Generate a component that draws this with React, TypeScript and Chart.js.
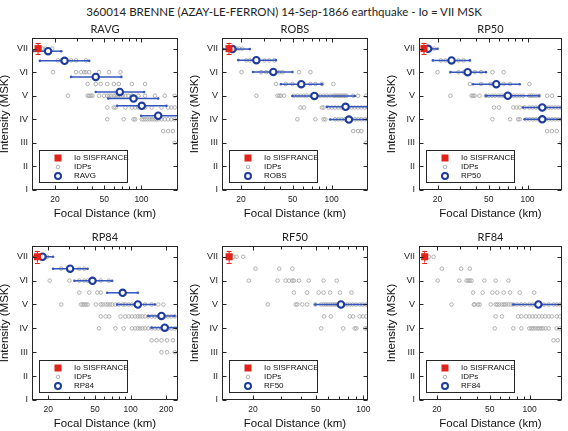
import React, { useEffect, useRef } from "react";
import { Chart, registerables } from "chart.js";

Chart.register(...registerables);

const MAIN_TITLE = "360014 BRENNE (AZAY-LE-FERRON) 14-Sep-1866 earthquake - Io = VII MSK";
const Y_TITLE = "Intensity (MSK)";
const X_TITLE = "Focal Distance (km)";
const LEGEND_IO = "Io SISFRANCE";
const LEGEND_IDP = "IDPs";

const ROMAN = ["I", "II", "III", "IV", "V", "VI", "VII"];
const INTENSITY_TICKS = [1, 2, 3, 4, 5, 6, 7];
const INTENSITY_RANGE = [1, 7.45];
const DIST_LABEL_TICKS = [20, 50, 100, 200];
const DIST_MINOR_TICKS = [20, 30, 40, 50, 60, 70, 80, 90, 100, 200];
const IDP_LEVELS = [7, 6.5, 6, 5.5, 5, 4.5, 4, 3.5, 3];
const IO_INTENSITY = 7;
const IO_UNCERTAINTY = 0.25;

// ---------- RAVG ----------
const RAVG_RANGE = [13.04, 197];
const RAVG_IO = 14.6;
const RAVG_IDP = [
  [15.9, 16.8, 19.0],
  [21.1, 22.5, 27.0, 29.6, 35.6],
  [19.3, 29.6, 32.4, 34.5, 35.6, 37.8, 45.4, 54.6, 67.6],
  [36.7, 42.7, 46.8, 52.9, 59.8, 65.6, 83.7, 106.9],
  [25.4, 36.7, 37.8, 39.0, 40.2, 45.4, 49.8, 52.9, 55.0, 57.0, 59.8, 62.0, 64.5, 67.6, 70.5, 74.0, 78.0, 83.7, 94.6, 106.9, 128.5, 154.3, 185.4],
  [52.9, 59.8, 61.7, 74.1, 83.7, 89.0, 94.6, 106.9, 120.8, 145.2, 164.1, 174.4, 185.4],
  [52.9, 71.9, 86.3, 89.0, 100.6, 104, 108, 112, 117, 122, 127, 132, 136.6, 145.2, 154.3, 164.1, 174.4, 185.4],
  [149.7, 164.1, 179.8],
  [185.4],
];
const RAVG_MEAN_DIST = [17.6, 23.9, 42.7, 66.8, 86.3, 100.6, 136.6];
const RAVG_MEAN_INT = [6.89, 6.48, 5.8, 5.16, 4.88, 4.57, 4.15];
const RAVG_BAR_LO = [13.4, 15.1, 27.0, 42.7, 53.9, 63.6, 99.4];
const RAVG_BAR_HI = [22.5, 37.8, 68.8, 105, 136.6, 159.1, 200];

// ---------- ROBS ----------
const ROBS_RANGE = [14.3, 190];
const ROBS_IO = 16.2;
const ROBS_IDP = [
  [18.5, 19.4, 20.5],
  [22.0, 23.4, 30.4, 33.1, 36.2],
  [20.2, 28.6, 31.3, 39.5, 41.8, 56.0, 68.6],
  [37.2, 44.3, 49.8, 68.6, 74.9, 84.1, 103.1],
  [26.3, 38.3, 39.5, 40.6, 43.1, 51.3, 54.4, 57.6, 61.1, 64, 68.6, 72.7, 77, 81.7, 86.6, 91.8, 97.3, 103.1, 106.2, 109.3, 112.5, 115.9, 119.3, 122.8, 126.5, 130.2, 146.3, 159.7, 184.7],
  [57.6, 61.1, 84.1, 86.6, 94.5, 100.2, 106.2, 112.5, 119.3, 126.5, 134.1, 142.1, 150.6, 159.7, 169.2, 179.4, 189],
  [54.4, 74.9, 86.6, 89.2, 106.2, 112.5, 119.3, 126.5, 134.1, 142.1, 150.6, 159.7, 169.2, 179.4, 189],
  [146.3, 159.7, 169.2],
  [184.7],
];
const ROBS_MEAN_DIST = [17.2, 26.3, 35.5, 58.3, 73.6, 127.9, 135.7];
const ROBS_MEAN_INT = [6.98, 6.51, 6.01, 5.49, 4.99, 4.53, 3.99];
const ROBS_BAR_LO = [14.7, 19.1, 24.8, 40.6, 49.8, 91.8, 97.3];
const ROBS_BAR_HI = [23.4, 37.2, 49.8, 84.1, 150.6, 195, 195];

// ---------- RP50 ----------
const RP50_RANGE = [14.36, 185];
const RP50_IO = 15.7;
const RP50_IDP = [
  [17.9, 18.9],
  [21.2, 23.1, 29.1, 31.8],
  [20.0, 29.1, 31.8, 38.9, 43.6, 53.4, 65.3],
  [35.7, 43.6, 51.8, 65.3, 73.2, 103.4],
  [25.2, 36.7, 37.8, 38.9, 42.4, 47.5, 50, 53, 56, 59.9, 63, 66, 70, 74, 78, 82.2, 87, 92.2, 103.4, 107, 111, 116, 122.9, 142, 154.7],
  [54.9, 59.9, 77.6, 82.2, 87.0, 94.9, 103.4, 109.6, 116, 122.9, 130.2, 137.9, 146.1, 154.7, 163.9, 173.7, 183],
  [53.4, 73.2, 84.6, 87.0, 97.7, 103.4, 109.6, 116, 122.9, 130.2, 137.9, 146.1, 154.7, 163.9, 173.7, 183],
  [142, 154.7, 168.7],
  [183],
];
const RP50_MEAN_DIST = [16.9, 25.7, 34.3, 57.2, 70.3, 130.2, 130.2];
const RP50_MEAN_INT = [6.99, 6.5, 6.0, 5.49, 5.0, 4.5, 4.0];
const RP50_BAR_LO = [15.7, 18.4, 25.2, 37.8, 47.5, 92.2, 94.9];
const RP50_BAR_HI = [20.0, 35.7, 47.5, 87.0, 122.9, 190, 190];

// ---------- RP84 ----------
const RP84_RANGE = [14.58, 252];
const RP84_IO = 16.2;
const RP84_IDP = [
  [18.7, 19.6],
  [25.8, 36.7, 40.5],
  [20.6, 30.3, 36.7, 40.5, 43.2, 55.8, 65.5],
  [36.7, 44.6, 52.3, 55.8],
  [25.8, 37.9, 39.2, 40.5, 41.8, 43.2, 50.7, 55.8, 58, 61.4, 64, 67, 70, 74.4, 79.4, 85.7, 90.2, 96.2, 102.6, 109.4, 132.6, 150.8, 171.5, 190],
  [55.8, 61.4, 65.7, 82.1, 90.2, 96.2, 102.6, 109.4, 115.2, 120.5, 126, 132.6, 141.4, 150.8, 160.8, 171.5, 182.8, 194.9, 207.8, 221.6, 236.3],
  [54.0, 74.4, 87.3, 102.6, 109.4, 115.2, 120.5, 126, 132.6, 141.4, 150.8, 160.8, 171.5, 182.8, 194.9, 207.8, 221.6, 236.3, 250],
  [150.8, 166, 182.8, 203.8, 228.8],
  [182.8, 203.8, 237],
];
const RP84_MEAN_DIST = [17.9, 30.7, 47.5, 85.7, 115.2, 182.8, 194.9];
const RP84_MEAN_INT = [7.0, 6.5, 5.99, 5.49, 5.0, 4.52, 4.03];
const RP84_BAR_LO = [15.0, 22.0, 33.4, 63.4, 76.9, 141.4, 150.8];
const RP84_BAR_HI = [22.0, 43.2, 69.8, 115.2, 160.8, 236.3, 260];

// ---------- RF50 ----------
const RF50_RANGE = [12.7, 107];
const RF50_IO = 14.1;
const RF50_IDP = [
  [15.0, 15.7, 17.3],
  [20.7, 29.3, 35.5],
  [18.8, 28.6, 32.2, 33.8, 35.5, 36.3, 39.1, 45.1, 56.0, 67.8],
  [36.3, 44.0, 52.1, 56.0, 61.6, 71.1, 84.1],
  [24.8, 37.2, 38.1, 41.0, 44.0, 49.6, 54.1, 56, 58, 60, 62, 64, 66.2, 68, 70, 72.9, 76, 79, 82.1, 86, 90, 94.8, 99, 104.4],
  [56.5, 62.2, 82.1, 86.2, 94.8, 99.5, 104.4],
  [54.1, 74.6, 88.3, 90.4, 102.9, 105.9],
  [],
  [],
];
const RF50_MEAN_DIST = [72.2];
const RF50_MEAN_INT = [5.0];
const RF50_BAR_LO = [49.6];
const RF50_BAR_HI = [110];

// ---------- RF84 ----------
const RF84_RANGE = [14.67, 175];
const RF84_IO = 16.2;
const RF84_IDP = [
  [17.4, 18.9],
  [21.8, 30.5, 35.4],
  [20.3, 29.5, 33.5, 34.5, 35.4, 36.5, 45.6, 55.4, 69.2],
  [37.5, 44.3, 52.4, 57.0, 63.7, 71.2, 84.2, 108.2],
  [25.8, 38, 38.5, 40.8, 42, 50.9, 55.4, 57, 59, 61.9, 64, 66, 69.2, 72, 75.3, 80, 86.6, 92, 99.5, 105.3, 112, 117.7, 128, 139.2, 151.3, 160, 169.2],
  [55.4, 61.9, 81.9, 86.6, 94, 99.5, 105.3, 111, 117.7, 124, 131, 139.2, 147, 160, 169.2],
  [54.6, 75.3, 86.6, 99.5, 103, 106, 110, 114.5, 118, 122, 126, 132, 139.2, 160, 169.2],
  [151.3, 162.7],
  [],
];
const RF84_MEAN_DIST = [116.4];
const RF84_MEAN_INT = [5.0];
const RF84_BAR_LO = [75.3];
const RF84_BAR_HI = [180];

// ---------- styling ----------
const RED = "#e2231a";
const BLUE = "#1d3c9c";
const BLUE_BAR = "#3556bd";
const GREY = "#a8a8a8";
const AXIS = "#262626";
const SANS = "'Liberation Sans', Arial, Helvetica, sans-serif";
const TITLE_FONT = "Lato, 'Open Sans', sans-serif";

const PANELS = [
  { name: "RAVG", range: RAVG_RANGE, io: RAVG_IO, idp: RAVG_IDP, meanDist: RAVG_MEAN_DIST, meanInt: RAVG_MEAN_INT, barLo: RAVG_BAR_LO, barHi: RAVG_BAR_HI, L: 32, T: 38, R: 180, B: 190, padR: 4 },
  { name: "ROBS", range: ROBS_RANGE, io: ROBS_IO, idp: ROBS_IDP, meanDist: ROBS_MEAN_DIST, meanInt: ROBS_MEAN_INT, barLo: ROBS_BAR_LO, barHi: ROBS_BAR_HI, L: 222, T: 38, R: 370, B: 190, padR: 4 },
  { name: "RP50", range: RP50_RANGE, io: RP50_IO, idp: RP50_IDP, meanDist: RP50_MEAN_DIST, meanInt: RP50_MEAN_INT, barLo: RP50_BAR_LO, barHi: RP50_BAR_HI, L: 419, T: 38, R: 567, B: 190, padR: 1 },
  { name: "RP84", range: RP84_RANGE, io: RP84_IO, idp: RP84_IDP, meanDist: RP84_MEAN_DIST, meanInt: RP84_MEAN_INT, barLo: RP84_BAR_LO, barHi: RP84_BAR_HI, L: 32, T: 246, R: 180, B: 400, padR: 4 },
  { name: "RF50", range: RF50_RANGE, io: RF50_IO, idp: RF50_IDP, meanDist: RF50_MEAN_DIST, meanInt: RF50_MEAN_INT, barLo: RF50_BAR_LO, barHi: RF50_BAR_HI, L: 222, T: 246, R: 370, B: 400, padR: 4 },
  { name: "RF84", range: RF84_RANGE, io: RF84_IO, idp: RF84_IDP, meanDist: RF84_MEAN_DIST, meanInt: RF84_MEAN_INT, barLo: RF84_BAR_LO, barHi: RF84_BAR_HI, L: 419, T: 246, R: 567, B: 400, padR: 1 },
];

const Y_AXIS_W = 34;
const X_AXIS_H = 30;
const TOP_PAD = 20;

function makeDecor(p: any) {
  return {
    id: "decor" + p.name,
    afterDatasetsDraw(chart: any) {
      const { ctx, chartArea: a } = chart;
      const xs = chart.scales.x;
      const ys = chart.scales.y;
      ctx.save();
      // Io error bar caps
      const ix = xs.getPixelForValue(p.io);
      ctx.strokeStyle = RED;
      ctx.lineWidth = 1;
      [IO_INTENSITY - IO_UNCERTAINTY, IO_INTENSITY + IO_UNCERTAINTY].forEach((v) => {
        const y = Math.round(ys.getPixelForValue(v)) + 0.5;
        ctx.beginPath();
        ctx.moveTo(ix - 2.5, y);
        ctx.lineTo(ix + 2.5, y);
        ctx.stroke();
      });

      // legend
      const lx = Math.round(a.left + 7) + 0.5;
      const ly = Math.round(a.bottom - 40) + 0.5;
      const lw = 88;
      const lh = 32;
      ctx.fillStyle = "#ffffff";
      ctx.fillRect(lx, ly, lw, lh);
      ctx.strokeStyle = AXIS;
      ctx.lineWidth = 1;
      ctx.strokeRect(lx, ly, lw, lh);
      const mx = a.left + 26;
      const tx = a.left + 42;
      const rows = [ly + 7.5, ly + 16.5, ly + 25.5];
      ctx.fillStyle = RED;
      ctx.fillRect(mx - 3.5, rows[0] - 3.5, 7, 7);
      ctx.strokeStyle = GREY;
      ctx.lineWidth = 0.9;
      ctx.beginPath();
      ctx.arc(mx, rows[1], 1.8, 0, Math.PI * 2);
      ctx.stroke();
      ctx.strokeStyle = BLUE;
      ctx.lineWidth = 2;
      ctx.fillStyle = "#ffffff";
      ctx.beginPath();
      ctx.arc(mx, rows[2], 3, 0, Math.PI * 2);
      ctx.fill();
      ctx.stroke();
      ctx.fillStyle = "#111111";
      ctx.font = `8px ${SANS}`;
      ctx.textAlign = "left";
      ctx.textBaseline = "middle";
      ctx.fillText(LEGEND_IO, tx, rows[0]);
      ctx.fillText(LEGEND_IDP, tx, rows[1]);
      ctx.fillText(p.name, tx, rows[2]);

      // axes box
      const l = Math.round(a.left) + 0.5;
      const r = Math.round(a.right) - 0.5;
      const t = Math.round(a.top) + 0.5;
      const b = Math.round(a.bottom) - 0.5;
      ctx.strokeStyle = AXIS;
      ctx.lineWidth = 1;
      ctx.strokeRect(l, t, r - l, b - t);
      // inward ticks
      ctx.beginPath();
      INTENSITY_TICKS.forEach((v) => {
        const y = Math.round(ys.getPixelForValue(v)) + 0.5;
        ctx.moveTo(l, y);
        ctx.lineTo(l + 4, y);
        ctx.moveTo(r, y);
        ctx.lineTo(r - 4, y);
      });
      DIST_MINOR_TICKS.forEach((v) => {
        if (v < xs.min || v > xs.max) return;
        const x = Math.round(xs.getPixelForValue(v)) + 0.5;
        const len = DIST_LABEL_TICKS.includes(v) ? 4 : 3;
        ctx.moveTo(x, b);
        ctx.lineTo(x, b - len);
        ctx.moveTo(x, t);
        ctx.lineTo(x, t + len);
      });
      ctx.stroke();

      // panel title
      ctx.fillStyle = "#222222";
      ctx.font = `11px ${TITLE_FONT}`;
      ctx.textAlign = "center";
      ctx.textBaseline = "middle";
      ctx.fillText(p.name, (a.left + a.right) / 2, a.top - 9);
      ctx.restore();
    },
  };
}

function Panel({ p }: { p: any }) {
  const ref = useRef<HTMLCanvasElement | null>(null);
  const cL = p.L - Y_AXIS_W;
  const cT = p.T - TOP_PAD;
  const cW = p.R - p.L + Y_AXIS_W + p.padR;
  const cH = p.B - p.T + TOP_PAD + X_AXIS_H;

  useEffect(() => {
    const canvas = ref.current;
    if (!canvas) return;
    const datasets: any[] = [];
    datasets.push({
      data: [{ x: p.io, y: IO_INTENSITY }],
      showLine: false,
      pointStyle: "rect",
      pointRadius: 5,
      pointBackgroundColor: RED,
      pointBorderColor: RED,
      pointBorderWidth: 0,
    });
    datasets.push({
      data: [
        { x: p.io, y: IO_INTENSITY - IO_UNCERTAINTY },
        { x: p.io, y: IO_INTENSITY + IO_UNCERTAINTY },
      ],
      showLine: true,
      borderColor: RED,
      borderWidth: 1,
      pointRadius: 0,
    });
    datasets.push({
      data: p.meanDist.map((d: number, i: number) => ({ x: d, y: p.meanInt[i] })),
      showLine: false,
      pointStyle: "circle",
      pointRadius: 3.2,
      pointBorderWidth: 2.1,
      pointBorderColor: BLUE,
      pointBackgroundColor: "#ffffff",
    });
    p.meanDist.forEach((_d: number, i: number) => {
      datasets.push({
        data: [
          { x: p.barLo[i], y: p.meanInt[i] },
          { x: p.barHi[i], y: p.meanInt[i] },
        ],
        showLine: true,
        borderColor: BLUE_BAR,
        borderWidth: 1.5,
        pointRadius: 1.3,
        pointBackgroundColor: BLUE_BAR,
        pointBorderWidth: 0,
      });
    });
    const idpPts: any[] = [];
    IDP_LEVELS.forEach((lvl, k) => {
      (p.idp[k] || []).forEach((d: number) => idpPts.push({ x: d, y: lvl }));
    });
    datasets.push({
      data: idpPts,
      showLine: false,
      pointStyle: "circle",
      pointRadius: 1.8,
      pointBorderWidth: 0.9,
      pointBorderColor: GREY,
      pointBackgroundColor: "rgba(0,0,0,0)",
    });

    const chart = new Chart(canvas, {
      type: "scatter",
      data: { datasets },
      options: {
        animation: false,
        responsive: false,
        devicePixelRatio: 1,
        events: [],
        layout: { padding: { left: 0, top: TOP_PAD, right: p.padR, bottom: 0 } },
        plugins: { legend: { display: false }, tooltip: { enabled: false }, title: { display: false } },
        scales: {
          x: {
            type: "logarithmic",
            min: p.range[0],
            max: p.range[1],
            bounds: "data",
            grid: { display: false, drawTicks: false },
            border: { display: false },
            afterBuildTicks: (s: any) => {
              s.ticks = DIST_LABEL_TICKS.filter((v) => v >= p.range[0] && v <= p.range[1]).map((v) => ({ value: v }));
            },
            afterFit: (s: any) => {
              s.height = X_AXIS_H;
              s.paddingLeft = 0;
              s.paddingRight = 0;
            },
            ticks: {
              autoSkip: false,
              maxRotation: 0,
              minRotation: 0,
              padding: 5,
              color: "#222222",
              font: { family: SANS, size: 8.5 },
              callback: (v: any) => String(v),
            },
            title: {
              display: true,
              text: X_TITLE,
              color: "#111111",
              padding: 0,
              font: { family: SANS, size: 11.5, lineHeight: "13px" },
            },
          },
          y: {
            type: "linear",
            min: INTENSITY_RANGE[0],
            max: INTENSITY_RANGE[1],
            bounds: "data",
            grid: { display: false, drawTicks: false },
            border: { display: false },
            afterBuildTicks: (s: any) => {
              s.ticks = INTENSITY_TICKS.map((v) => ({ value: v }));
            },
            afterFit: (s: any) => {
              s.width = Y_AXIS_W;
              s.paddingTop = 0;
              s.paddingBottom = 0;
            },
            ticks: {
              autoSkip: false,
              padding: 4,
              color: "#222222",
              font: { family: SANS, size: 9 },
              callback: (v: any) => ROMAN[Math.round(v) - 1] || "",
            },
            title: {
              display: true,
              text: Y_TITLE,
              color: "#111111",
              padding: 0,
              font: { family: SANS, size: 11.5, lineHeight: "13px" },
            },
          },
        },
      },
      plugins: [makeDecor(p)],
    } as any);
    return () => chart.destroy();
  }, [p]);

  return (
    <canvas
      ref={ref}
      width={cW}
      height={cH}
      style={{ position: "absolute", left: cL, top: cT, width: cW, height: cH }}
    />
  );
}

export default function App() {
  return (
    <div
      style={{
        position: "absolute",
        left: 0,
        top: 0,
        width: 568,
        height: 431,
        overflow: "hidden",
        background: "#ffffff",
      }}
    >
      <div
        style={{
          position: "absolute",
          left: 0,
          top: 4,
          width: 568,
          textAlign: "center",
          fontFamily: TITLE_FONT,
          fontSize: 11.5,
          lineHeight: "15px",
          color: "#222222",
        }}
      >
        {MAIN_TITLE}
      </div>
      {PANELS.map((p) => (
        <Panel key={p.name} p={p} />
      ))}
    </div>
  );
}
